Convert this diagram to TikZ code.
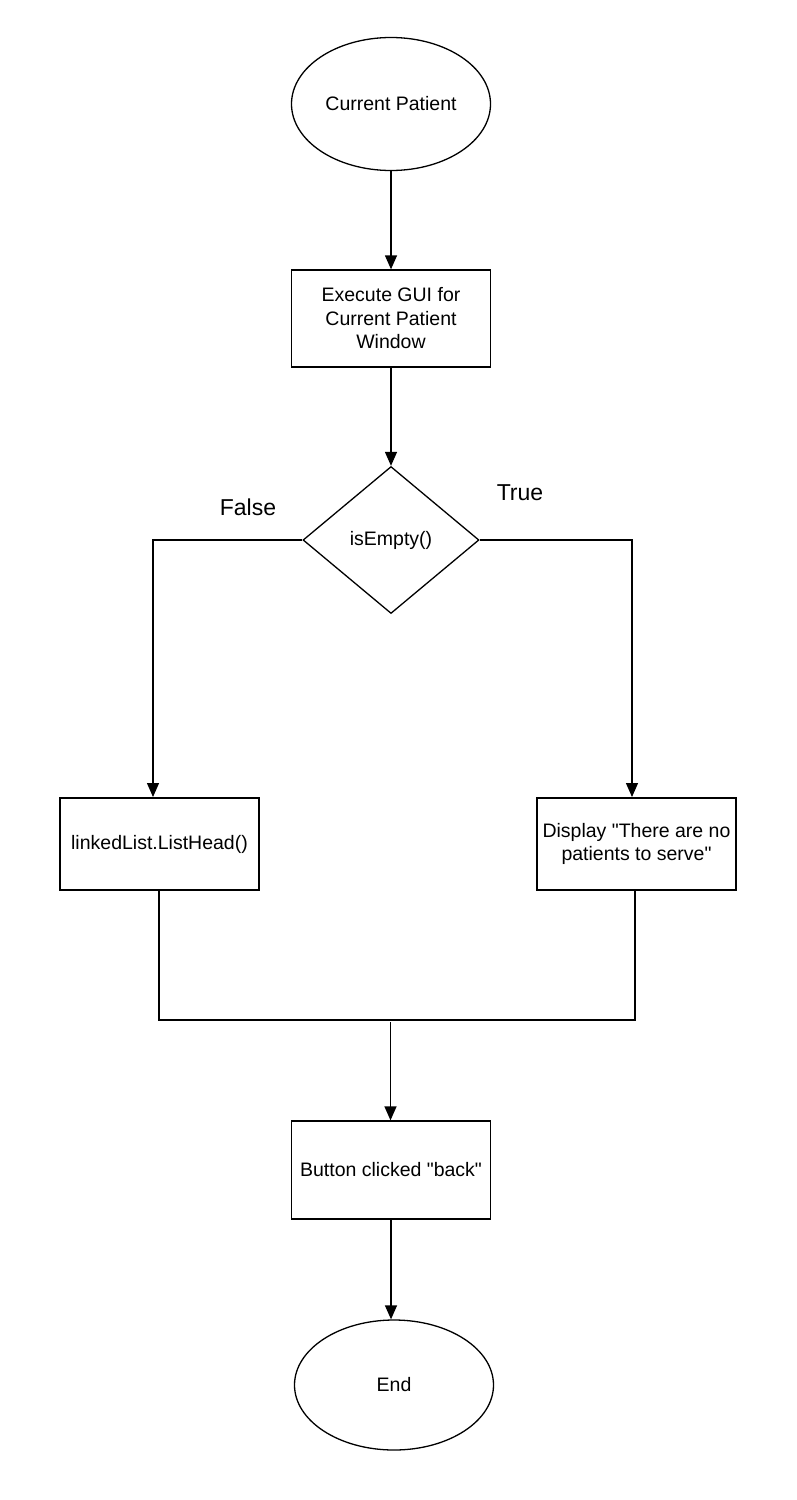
\documentclass[tikz,border=0pt]{standalone}
\usepackage{fontspec}
\newfontfamily\chartfont{Liberation Sans}
\usetikzlibrary{shapes.geometric, arrows.meta, positioning}

\begin{document}
\begin{tikzpicture}[x=1pt, y=-1pt,
    every node/.style={font=\chartfont\fontsize{19.5}{23.5}\selectfont, inner sep=0pt},
    terminal/.style={draw, line width=1.3pt, ellipse, minimum width=199pt, minimum height=133pt},
    process/.style={draw, line width=1.3pt, rectangle, minimum width=199pt, align=center},
    decision/.style={draw, line width=1.3pt, diamond, minimum width=176pt, minimum height=147pt, aspect=1.2},
    flow/.style={-{Triangle[length=14pt, width=12pt]}, line width=1.3pt},
    link/.style={line width=1.3pt},
    branchlabel/.style={font=\chartfont\fontsize{23}{27}\selectfont}]
  \useasboundingbox (0,0) rectangle (797,1500);

  % Start
  \node[terminal] (start) at (391, 104) {Current Patient};

  % GUI
  \node[process, minimum height=97pt] (gui) at (391, 318.5) {Execute GUI for\\Current Patient\\Window};
  \draw[flow] (start) -- (gui);

  % Check
  \node[decision] (check) at (391, 540) {isEmpty()};
  \draw[flow] (gui) -- (check);
  \node[branchlabel] (lfalse) at (248, 507) {False};
  \node[branchlabel] (ltrue) at (520, 493) {True};

  % Branches
  \node[process, minimum height=92pt] (head) at (159.5, 844) {linkedList.ListHead()};
  \node[process, minimum height=92pt] (empty) at (636.5, 844) {Display "There are no\\patients to serve"};
  \coordinate (lturn) at (153, 540);
  \coordinate (lend) at (153, 797);
  \coordinate (rturn) at (632, 540);
  \coordinate (rend) at (632, 797);
  \draw[flow] (check.west) -- (lturn) -- (lend);
  \draw[flow] (check.east) -- (rturn) -- (rend);

  % Merge
  \coordinate (lbot) at (159, 1020);
  \coordinate (rbot) at (635, 1020);
  \coordinate (mid) at (390.5, 1022);
  \draw[link] (head.south -| lbot) -- (lbot) -- (rbot) -- (empty.south -| rbot);

  % Back
  \node[process, minimum height=98pt] (back) at (391, 1170) {Button clicked "back"};
  \draw[flow] (mid) -- (mid |- back.north);

  % End
  \node[terminal, minimum height=130pt] (stop) at (394, 1385) {End};
  \draw[flow] (back.south) -- (back.south |- stop.north);
\end{tikzpicture}
\end{document}
